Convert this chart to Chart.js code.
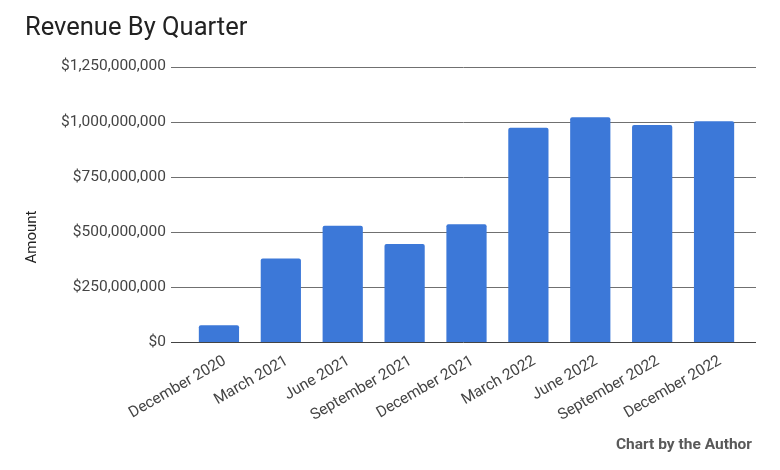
<!DOCTYPE html>
<html>
<head>
<meta charset="utf-8">
<script src="https://cdn.jsdelivr.net/npm/chart.js@4.4.1/dist/chart.umd.min.js"></script>
<style>
  html, body { margin: 0; padding: 0; background: #fff; }
  #wrap { width: 780px; height: 470px; }
</style>
</head>
<body>
<div id="wrap"><canvas id="revChart" width="780" height="470"></canvas></div>
<script>
const quarters = ['December 2020', 'March 2021', 'June 2021', 'September 2021', 'December 2021',
                  'March 2022', 'June 2022', 'September 2022', 'December 2022'];
const revenue = [76000000, 379000000, 527000000, 445000000, 534000000,
                 972000000, 1020000000, 985000000, 1002000000];
const yTicks = [0, 250000000, 500000000, 750000000, 1000000000, 1250000000];

const fontFamily = 'Roboto, "Noto Sans", sans-serif';

// horizontal grid lines run a bit past the bars on both sides, like google sheets
const wideGrid = {
    id: 'wideGrid',
    beforeDatasetsDraw(chart) {
        const ctx = chart.ctx;
        const area = chart.chartArea;
        const y = chart.scales.y;
        ctx.save();
        yTicks.forEach((v) => {
            const py = Math.round(y.getPixelForValue(v)) + 0.5;
            ctx.strokeStyle = v === 0 ? '#444' : '#707070';
            ctx.lineWidth = 1;
            ctx.beginPath();
            ctx.moveTo(area.left - 17, py);
            ctx.lineTo(area.right + 11, py);
            ctx.stroke();
        });
        ctx.restore();
    }
};

// axis title sits lower than the middle of the plot, credit in the corner
const extraText = {
    id: 'extraText',
    afterDraw(chart) {
        const ctx = chart.ctx;
        ctx.save();
        ctx.translate(32, 237);
        ctx.rotate(-Math.PI / 2);
        ctx.fillStyle = '#222';
        ctx.font = '15px ' + fontFamily;
        ctx.textAlign = 'center';
        ctx.textBaseline = 'middle';
        ctx.fillText('Amount', 0, 0);
        ctx.restore();

        ctx.save();
        ctx.fillStyle = '#595959';
        ctx.font = 'bold 15.5px ' + fontFamily;
        ctx.textAlign = 'right';
        ctx.textBaseline = 'alphabetic';
        ctx.fillText('Chart by the Author', 752, 449);
        ctx.restore();
    }
};

const ctx = document.getElementById('revChart').getContext('2d');
new Chart(ctx, {
    type: 'bar',
    data: {
        labels: quarters,
        datasets: [{
            label: 'Revenue',
            data: revenue,
            backgroundColor: '#3c78d8',
            borderRadius: { topLeft: 2, topRight: 2 },
            borderSkipped: 'bottom',
            barPercentage: 0.65,
            categoryPercentage: 1.0
        }]
    },
    options: {
        responsive: false,
        animation: false,
        layout: { padding: { top: 13, left: 25, right: 35, bottom: 43 } },
        plugins: {
            legend: { display: false },
            tooltip: { enabled: false },
            title: {
                display: true,
                text: 'Revenue By Quarter',
                align: 'start',
                color: '#222',
                font: { family: fontFamily, size: 25.5, weight: 'normal' },
                padding: { top: 0, bottom: 23 }
            }
        },
        scales: {
            x: {
                grid: { display: false },
                border: { display: false },
                ticks: {
                    color: '#444',
                    font: { family: fontFamily, size: 15.5 },
                    minRotation: 30,
                    maxRotation: 30,
                    labelOffset: 6,
                    padding: 2
                }
            },
            y: {
                min: 0,
                max: 1250000000,
                grid: { display: false },
                border: { display: false },
                afterFit: (axis) => { axis.width = 163; },
                afterBuildTicks: (axis) => {
                    axis.ticks = yTicks.map((v) => ({ value: v }));
                },
                ticks: {
                    color: '#444',
                    font: { family: fontFamily, size: 15.5 },
                    padding: 14,
                    callback: (v) => '$' + Number(v).toLocaleString('en-US')
                }
            }
        }
    },
    plugins: [wideGrid, extraText]
});
</script>
</body>
</html>
